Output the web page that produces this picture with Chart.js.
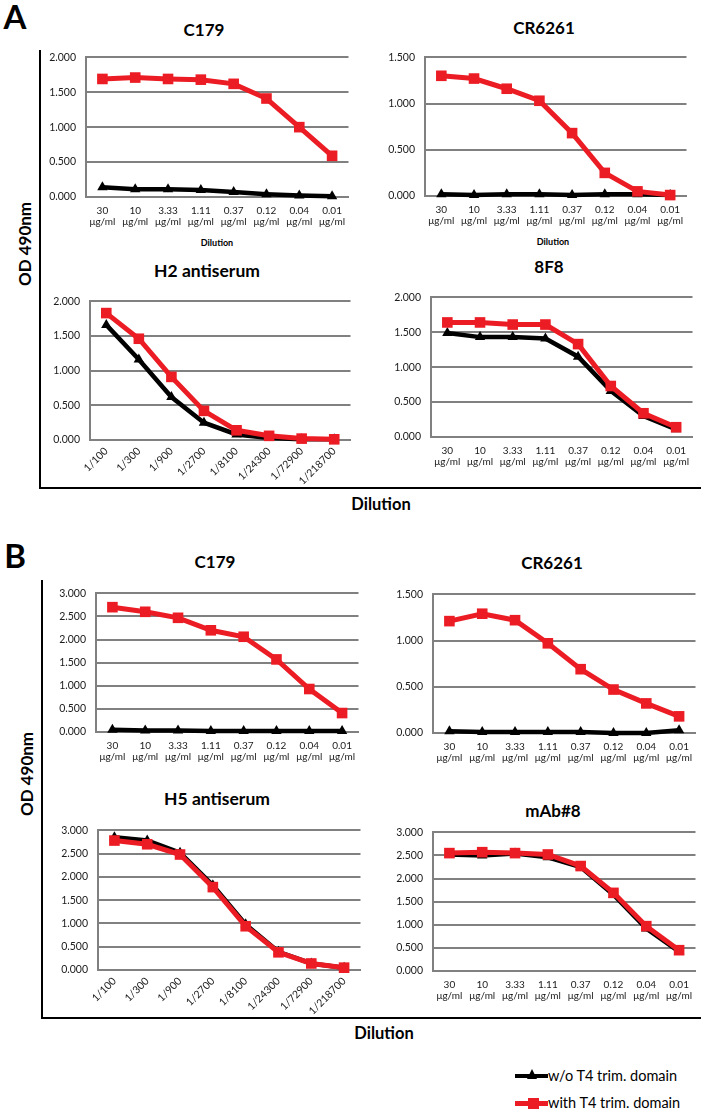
<!DOCTYPE html>
<html><head><meta charset="utf-8">
<script src="https://cdn.jsdelivr.net/npm/chart.js@4/dist/chart.umd.min.js"></script>
<style>
body{margin:0;width:704px;height:1114px;background:#fff;position:relative;overflow:hidden;font-family:Lato,"Open Sans",sans-serif;color:#000}
.t{position:absolute;white-space:nowrap;transform:translate(-50%,-50%);font-weight:bold;line-height:1}
.v{position:absolute;white-space:nowrap;transform:translate(-50%,-50%) rotate(-90deg);font-weight:bold;font-size:17px;line-height:1}
canvas{position:absolute}
.ln{position:absolute;background:#000}
.lg{position:absolute;font-size:14.5px;white-space:nowrap;transform:translateY(-50%);line-height:1}
</style></head><body>
<script>
// ---------- data ----------
const concValues = ['30','10','3.33','1.11','0.37','0.12','0.04','0.01'];
const concUnit = 'μg/ml';
const dilutionLabels = ['1/100','1/300','1/900','1/2700','1/8100','1/24300','1/72900','1/218700'];
const seriesNames = ['w/o T4 trim. domain','with T4 trim. domain'];

const A_C179_without   = [0.14,0.11,0.11,0.10,0.07,0.04,0.02,0.01];
const A_C179_with      = [1.69,1.71,1.69,1.68,1.62,1.41,1.00,0.59];
const A_CR6261_without = [0.02,0.01,0.02,0.02,0.01,0.02,0.02,0.01];
const A_CR6261_with    = [1.30,1.27,1.16,1.03,0.68,0.25,0.05,0.01];
const A_H2_without     = [1.66,1.16,0.62,0.25,0.08,0.03,0.01,0.01];
const A_H2_with        = [1.83,1.46,0.91,0.42,0.14,0.06,0.02,0.01];
const A_8F8_without    = [1.49,1.43,1.43,1.41,1.15,0.66,0.30,0.11];
const A_8F8_with       = [1.64,1.64,1.61,1.61,1.33,0.73,0.34,0.14];
const B_C179_without   = [0.05,0.03,0.03,0.02,0.02,0.02,0.02,0.02];
const B_C179_with      = [2.70,2.60,2.47,2.20,2.06,1.57,0.93,0.41];
const B_CR6261_without = [0.02,0.01,0.01,0.01,0.01,0.00,0.00,0.03];
const B_CR6261_with    = [1.21,1.29,1.22,0.97,0.69,0.47,0.32,0.18];
const B_H5_without     = [2.85,2.78,2.52,1.82,0.98,0.39,0.14,0.05];
const B_H5_with        = [2.78,2.70,2.48,1.78,0.94,0.38,0.14,0.05];
const B_mAb8_without   = [2.52,2.50,2.54,2.46,2.25,1.65,0.92,0.42];
const B_mAb8_with      = [2.55,2.57,2.55,2.52,2.27,1.69,0.97,0.45];

const yMaxA = [2.0, 1.5, 2.0, 2.0];
const yMaxB = [3.0, 1.5, 3.0, 3.0];
const yStep = 0.5;
// ---------------------------

const concLabels = concValues.map(v => [v, concUnit]);
const RED = '#ec1c24', GRID = '#808080', FONT = 'Lato, "Open Sans", sans-serif';

function addText(cls, txt, x, y, size, extra) {
  const d = document.createElement('div');
  d.className = cls; d.textContent = txt;
  d.style.left = x + 'px'; d.style.top = y + 'px';
  if (size) d.style.fontSize = size + 'px';
  if (extra) Object.assign(d.style, extra);
  document.body.appendChild(d);
}
function addLine(x, y, w, h, color) {
  const d = document.createElement('div');
  d.className = 'ln';
  Object.assign(d.style, {left: x + 'px', top: y + 'px', width: w + 'px', height: h + 'px', background: color || '#000'});
  document.body.appendChild(d);
  return d;
}

function panel(p) {
  const yW = 48, padT = 10, padR = 6;
  const xH = p.rotated ? 56 : 36;
  const pw = p.right - p.left, ph = p.bottom - p.top;
  const c = document.createElement('canvas');
  c.width = Math.round(pw + yW + padR);
  c.height = Math.round(padT + ph + xH);
  c.style.left = (p.left - yW) + 'px';
  c.style.top = (p.top - padT) + 'px';
  document.body.appendChild(c);
  new Chart(c, {
    type: 'line',
    data: {
      labels: p.labels,
      datasets: [
        {label: seriesNames[0], data: p.black, borderColor: '#000', backgroundColor: '#000', borderWidth: 4.5,
         pointStyle: 'triangle', pointRadius: 6, pointBorderWidth: 0, order: 1, clip: false, tension: 0},
        {label: seriesNames[1], data: p.red, borderColor: RED, backgroundColor: RED, borderWidth: 5,
         pointStyle: 'rect', pointRadius: 7.5, pointBorderWidth: 0, order: 0, clip: false, tension: 0}
      ]
    },
    options: {
      responsive: false, animation: false, devicePixelRatio: 1,
      layout: {padding: {left: 0, right: padR, top: padT, bottom: 0}},
      plugins: {legend: {display: false}, tooltip: {enabled: false}, title: {display: false}},
      scales: {
        x: {
          offset: true,
          grid: {display: false, drawTicks: false},
          border: {display: true, color: GRID, width: 2},
          ticks: {autoSkip: false, color: '#1a1a1a', padding: p.rotated ? 5 : 8,
                  minRotation: p.rotated ? 45 : 0, maxRotation: p.rotated ? 45 : 0,
                  font: {family: FONT, size: p.rotated ? 10.5 : 10, lineHeight: 1.15}},
          afterFit: s => { s.height = xH; }
        },
        y: {
          min: 0, max: p.max,
          grid: {color: GRID, lineWidth: 2, drawTicks: false},
          border: {display: true, color: GRID, width: 2},
          ticks: {stepSize: yStep, padding: 10, color: '#1a1a1a', font: {family: FONT, size: 10.5},
                  callback: v => Number(v).toFixed(3)},
          afterFit: s => { s.width = yW; }
        }
      }
    }
  });
}

// Panel letters
addText('t', 'A', 15, 16, 33);
addText('t', 'B', 15, 555, 33);

// Frames
addLine(39, 50, 2, 439);
addLine(39, 487, 662, 2);
addLine(41, 580, 2, 439);
addLine(41, 1017, 660, 2);

// Axis titles
addText('v', 'OD 490nm', 24, 244);
addText('v', 'OD 490nm', 26, 774);
addText('t', 'Dilution', 381, 504, 16.5);
addText('t', 'Dilution', 384, 1033, 16.5);
addText('t', 'Dilution', 217, 242, 9);
addText('t', 'Dilution', 553, 241, 9);

// Chart titles
addText('t', 'C179', 204, 29, 17);
addText('t', 'CR6261', 544, 27, 17);
addText('t', 'H2 antiserum', 207, 271, 17.5);
addText('t', '8F8', 549, 266, 17);
addText('t', 'C179', 215, 561, 17);
addText('t', 'CR6261', 552, 562, 17);
addText('t', 'H5 antiserum', 217, 799, 17.5);
addText('t', 'mAb#8', 553, 810, 17);

// Panels
panel({left: 85.5, top: 51, right: 349.5, bottom: 197, labels: concLabels, black: A_C179_without, red: A_C179_with, max: yMaxA[0]});
panel({left: 424.6, top: 51, right: 687.4, bottom: 196, labels: concLabels, black: A_CR6261_without, red: A_CR6261_with, max: yMaxA[1]});
panel({left: 89.6, top: 295, right: 351.4, bottom: 440, labels: dilutionLabels, black: A_H2_without, red: A_H2_with, max: yMaxA[2], rotated: true});
panel({left: 430.6, top: 291, right: 693.4, bottom: 437, labels: concLabels, black: A_8F8_without, red: A_8F8_with, max: yMaxA[3]});
panel({left: 95.5, top: 587, right: 359.5, bottom: 732, labels: concLabels, black: B_C179_without, red: B_C179_with, max: yMaxB[0]});
panel({left: 432.5, top: 588, right: 696.5, bottom: 733, labels: concLabels, black: B_CR6261_without, red: B_CR6261_with, max: yMaxB[1]});
panel({left: 97.5, top: 824, right: 361.5, bottom: 970, labels: dilutionLabels, black: B_H5_without, red: B_H5_with, max: yMaxB[2], rotated: true});
panel({left: 432.5, top: 826, right: 696.5, bottom: 971, labels: concLabels, black: B_mAb8_without, red: B_mAb8_with, max: yMaxB[3]});

// Legend
addLine(515, 1074, 33, 4, '#000');
const tri = document.createElement('div');
Object.assign(tri.style, {position: 'absolute', left: '527px', top: '1069px', width: 0, height: 0,
  borderLeft: '5.5px solid transparent', borderRight: '5.5px solid transparent', borderBottom: '10px solid #000'});
document.body.appendChild(tri);
addLine(515, 1101, 33, 5, RED);
addLine(528, 1098, 11, 11, RED);
addText('lg', seriesNames[0], 548, 1076);
addText('lg', seriesNames[1], 548, 1103);
</script>
</body></html>
